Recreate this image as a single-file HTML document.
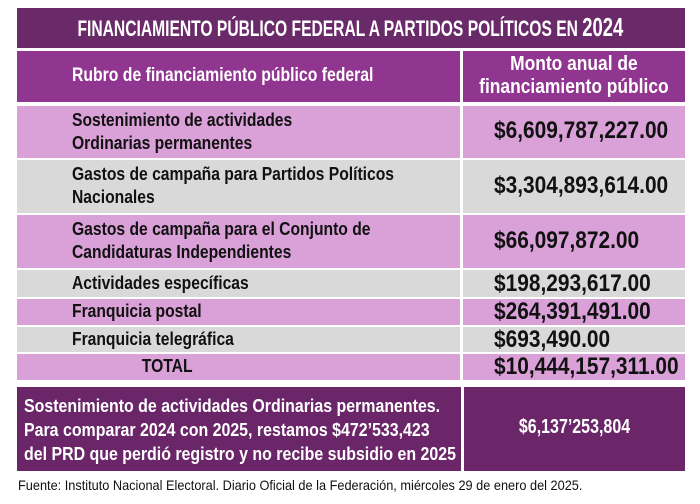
<!DOCTYPE html>
<html><head><meta charset="utf-8"><style>
body{margin:0;width:700px;height:504px;background:#fff;position:relative;overflow:hidden;font-family:"Liberation Sans",sans-serif;font-weight:bold}
.b{position:absolute;box-sizing:border-box}
.t{position:absolute;white-space:nowrap;transform-origin:left top}
.c{position:absolute;white-space:nowrap;text-align:center}
.c span{display:inline-block;transform-origin:center top}
.r{font-size:18px;transform:scaleX(0.87);color:#111}
.a{font-size:24px;transform:scaleX(0.87);color:#111}
</style></head><body>
<div class="b" style="left:17px;top:8px;width:668px;height:40px;background:#6a2a69"></div>
<div class="c" style="left:-250px;width:1200px;top:12px;color:#fff;font-size:22px"><span style="transform:scaleX(0.71)">FINANCIAMIENTO PÚBLICO FEDERAL A PARTIDOS POLÍTICOS EN <span style="font-size:26px;font-weight:900">2024</span></span></div>
<div class="b" style="left:17px;top:51px;width:443px;height:51px;background:#913690"></div>
<div class="b" style="left:463px;top:51px;width:222px;height:51px;background:#913690"></div>
<div class="t" style="left:72px;top:65px;color:#fff;font-size:19px;transform:scaleX(0.83)">Rubro de financiamiento público federal</div>
<div class="c" style="left:463px;width:222px;top:53px;color:#fff;font-size:20px;line-height:23px"><span style="transform:scaleX(0.87)">Monto anual de<br>financiamiento público</span></div>

<div class="b" style="left:17px;top:106px;width:443px;height:52px;background:#daa0d8"></div>
<div class="b" style="left:463px;top:106px;width:222px;height:52px;background:#daa0d8"></div>
<div class="b" style="left:17px;top:160px;width:443px;height:53px;background:#d9d9d9"></div>
<div class="b" style="left:463px;top:160px;width:222px;height:53px;background:#d9d9d9"></div>
<div class="b" style="left:17px;top:215px;width:443px;height:53px;background:#daa0d8"></div>
<div class="b" style="left:463px;top:215px;width:222px;height:53px;background:#daa0d8"></div>
<div class="b" style="left:17px;top:270px;width:443px;height:27px;background:#d9d9d9"></div>
<div class="b" style="left:463px;top:270px;width:222px;height:27px;background:#d9d9d9"></div>
<div class="b" style="left:17px;top:299px;width:443px;height:26px;background:#daa0d8"></div>
<div class="b" style="left:463px;top:299px;width:222px;height:26px;background:#daa0d8"></div>
<div class="b" style="left:17px;top:327px;width:443px;height:25px;background:#d9d9d9"></div>
<div class="b" style="left:463px;top:327px;width:222px;height:25px;background:#d9d9d9"></div>
<div class="b" style="left:17px;top:354px;width:443px;height:26px;background:#daa0d8"></div>
<div class="b" style="left:463px;top:354px;width:222px;height:26px;background:#daa0d8"></div>

<div class="t r" style="left:72px;top:109px;line-height:23px">Sostenimiento de actividades<br>Ordinarias permanentes</div>
<div class="t r" style="left:72px;top:163px;line-height:23px">Gastos de campaña para Partidos Políticos<br>Nacionales</div>
<div class="t r" style="left:72px;top:218px;line-height:23px">Gastos de campaña para el Conjunto de<br>Candidaturas Independientes</div>
<div class="t r" style="left:72px;top:273px">Actividades específicas</div>
<div class="t r" style="left:72px;top:301px">Franquicia postal</div>
<div class="t r" style="left:72px;top:329px">Franquicia telegráfica</div>
<div class="c" style="left:17px;width:300px;top:356px;font-size:18px;color:#111"><span style="transform:scaleX(0.87)">TOTAL</span></div>

<div class="t a" style="left:494px;top:117px">$6,609,787,227.00</div>
<div class="t a" style="left:494px;top:172px">$3,304,893,614.00</div>
<div class="t a" style="left:494px;top:227px">$66,097,872.00</div>
<div class="t a" style="left:494px;top:270px">$198,293,617.00</div>
<div class="t a" style="left:494px;top:298px">$264,391,491.00</div>
<div class="t a" style="left:494px;top:326px">$693,490.00</div>
<div class="t a" style="left:494px;top:353px">$10,444,157,311.00</div>

<div class="b" style="left:17px;top:387px;width:444px;height:84px;background:#6a2668"></div>
<div class="b" style="left:464px;top:387px;width:221px;height:84px;background:#6a2668"></div>
<div class="t" style="left:24px;top:394px;font-size:18px;line-height:24px;color:#fff;transform:scaleX(0.885)">Sostenimiento de actividades Ordinarias permanentes.<br>Para comparar 2024 con 2025, restamos $472’533,423<br>del PRD que perdió registro y no recibe subsidio en 2025</div>
<div class="c" style="left:464px;width:221px;top:416px;font-size:20px;color:#fff"><span style="transform:scaleX(0.8)">$6,137’253,804</span></div>
<div class="t" style="left:18px;top:477px;font-size:14px;font-weight:normal;color:#111;transform:scaleX(0.91)">Fuente: Instituto Nacional Electoral. Diario Oficial de la Federación, miércoles 29  de enero del 2025.</div>
</body></html>
